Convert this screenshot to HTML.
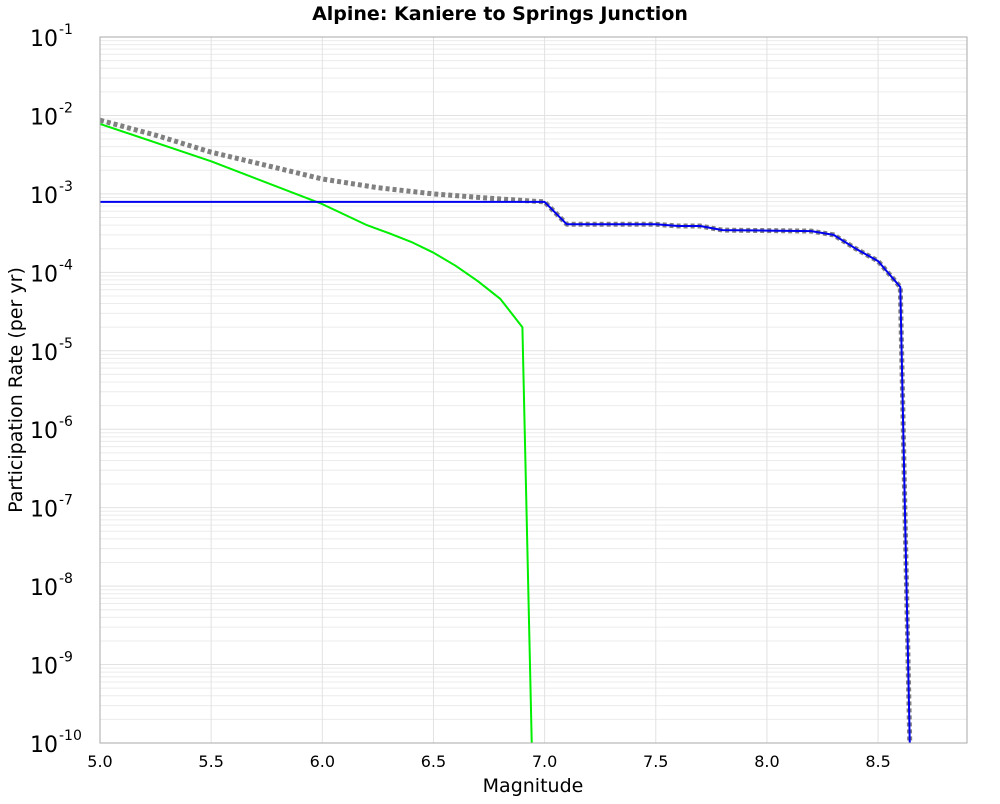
<!DOCTYPE html>
<html><head><meta charset="utf-8"><style>
body{margin:0;background:#fff;font-family:"DejaVu Sans","Liberation Sans",sans-serif;}
svg text{font-family:"DejaVu Sans","Liberation Sans",sans-serif;}
</style></head><body>
<svg id="chart" width="1000" height="800" xmlns="http://www.w3.org/2000/svg">
<text x="500" y="20" text-anchor="middle" font-size="19" font-weight="bold">Alpine: Kaniere to Springs Junction</text>
<text x="533" y="792" text-anchor="middle" font-size="19">Magnitude</text>
<text transform="translate(22,390) rotate(-90)" text-anchor="middle" font-size="19">Participation Rate (per yr)</text>
<g id="grid"></g><g id="series"></g><g id="axes"></g>
</svg>
<script>
const xTicks=[5.0,5.5,6.0,6.5,7.0,7.5,8.0,8.5];
const yDecades=[-1,-2,-3,-4,-5,-6,-7,-8,-9,-10];
const greenM=[5.0,5.5,6.0,6.2,6.3,6.4,6.5,6.6,6.7,6.8,6.9,6.95];
const greenV=[7.8e-3,2.6e-3,7.4e-4,4.0e-4,3.15e-4,2.44e-4,1.78e-4,1.21e-4,7.7e-5,4.6e-5,2.0e-5,1e-11];
const blueM=[5.0,7.0,7.1,7.5,7.6,7.7,7.8,8.0,8.2,8.3,8.4,8.5,8.6,8.65];
const blueV=[7.9e-4,7.9e-4,4.1e-4,4.1e-4,3.9e-4,3.9e-4,3.45e-4,3.4e-4,3.35e-4,3.0e-4,2.0e-4,1.39e-4,6.5e-5,1e-11];
const grayM=[5.0,5.25,5.5,5.75,6.0,6.25,6.5,6.75,7.0,7.1,7.5,7.6,7.7,7.8,8.0,8.2,8.3,8.4,8.5,8.6,8.65];
const grayV=[8.7e-3,5.6e-3,3.4e-3,2.3e-3,1.55e-3,1.2e-3,1.0e-3,8.8e-4,7.9e-4,4.1e-4,4.1e-4,3.9e-4,3.9e-4,3.45e-4,3.4e-4,3.35e-4,3.0e-4,2.0e-4,1.39e-4,6.5e-5,1e-11];
const X0=100,X1=967,Y0=37,Y1=743,xmin=5,xmax=8.9;
const sx=m=>X0+(m-xmin)/(xmax-xmin)*(X1-X0);
const sy=v=>Y0+(-1-Math.log10(v))/9*(Y1-Y0);
const NS="http://www.w3.org/2000/svg";
function mk(t,a,p){const e=document.createElementNS(NS,t);for(const k in a)e.setAttribute(k,a[k]);p.appendChild(e);return e;}
const grid=document.getElementById('grid'),axes=document.getElementById('axes'),ser=document.getElementById('series');
for(let d=-10;d<-1;d++)for(let k=1;k<10;k++){const y=sy(k*Math.pow(10,d));
 const l=mk('line',{x1:X0,x2:X1,y1:y,y2:y,stroke:k==1?'#e2e2e2':'#ececec','stroke-width':1},grid);
 
 }
xTicks.forEach(m=>{const x=sx(m);
 const l=mk('line',{x1:x,x2:x,y1:Y0,y2:Y1,stroke:'#e2e2e2'},grid);
 
 
 const t=mk('text',{x:x,y:767,'text-anchor':'middle','font-size':16},axes);t.textContent=m.toFixed(1);
 
 });
yDecades.forEach(d=>{const y=sy(Math.pow(10,d));
 const t=mk('text',{x:58,y:y+9,'font-size':22,'text-anchor':'end'},axes);t.textContent='10';
 
 
 const e=mk('text',{x:59,y:y-3,'font-size':14},axes);e.textContent=String(d);
 
 });
const fr=mk('rect',{x:X0,y:Y0,width:X1-X0,height:Y1-Y0,fill:'none',stroke:'#aaa'},axes);


const cp=mk('clipPath',{id:'cp'},ser);
mk('rect',{x:X0,y:Y0,width:X1-X0,height:Y1-Y0},cp);
function line(M,V,attrs,name){const pts=M.map((m,i)=>sx(m).toFixed(1)+','+sy(V[i]).toFixed(1)).join(' ');
 const p=mk('polyline',Object.assign({points:pts,fill:'none','clip-path':'url(#cp)','stroke-linejoin':'round'},attrs),ser);
 
 }
line(grayM,grayV,{stroke:'#808080','stroke-width':5,'stroke-dasharray':'4 3'},'total-rate-line');
line(greenM,greenV,{stroke:'#00ee00','stroke-width':2},'green-rate-line');
line(blueM,blueV,{stroke:'#0000ee','stroke-width':2},'blue-rate-line');
</script>
</body></html>
